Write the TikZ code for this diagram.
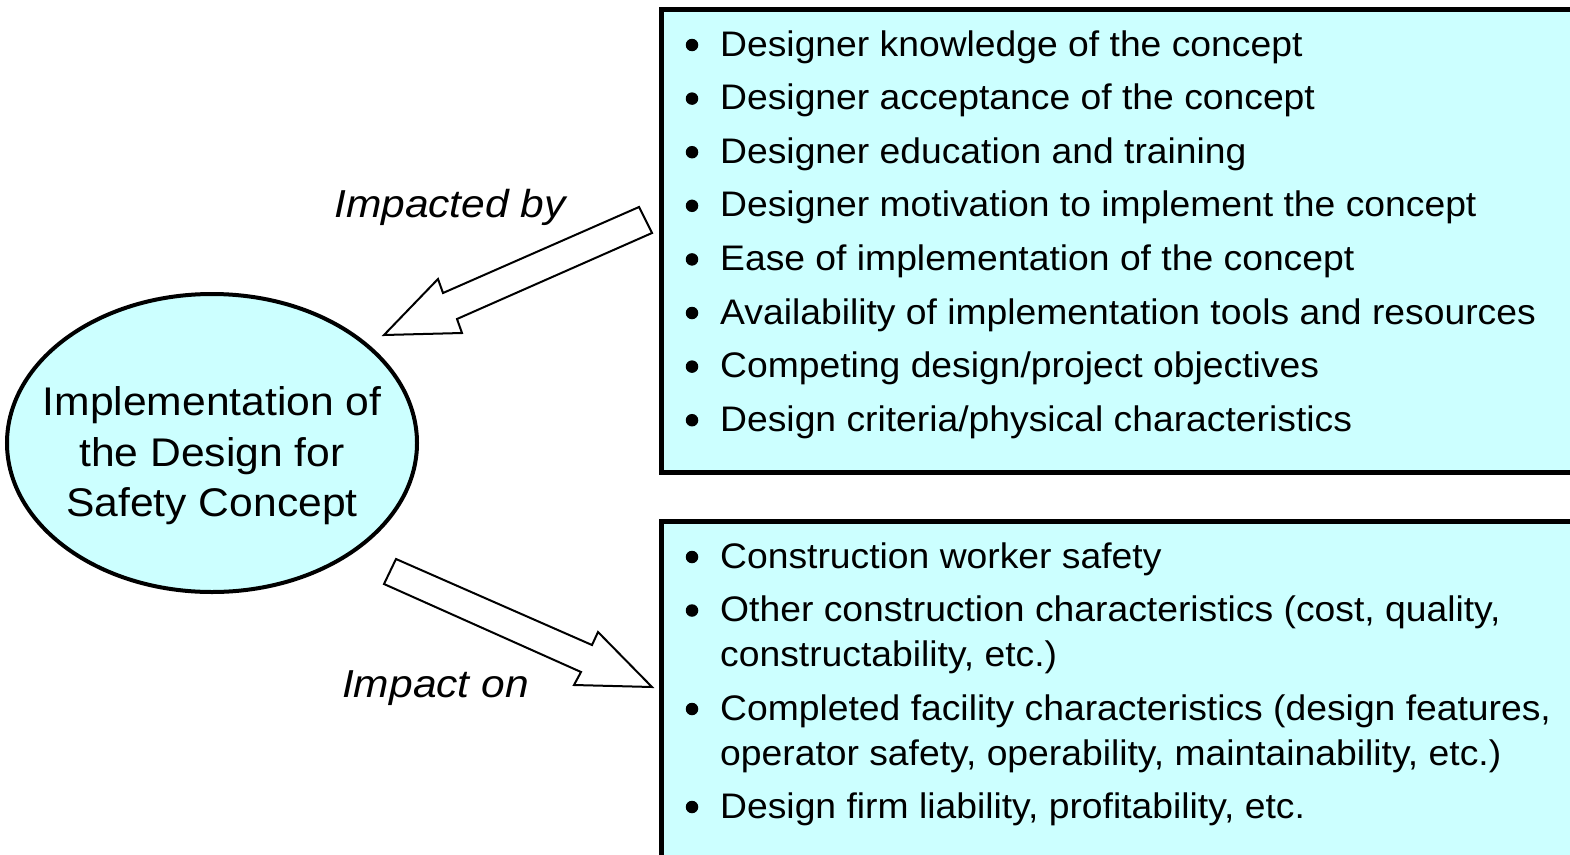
\documentclass[tikz,border=0pt]{standalone}
\usepackage{graphicx}
\usepackage{fontspec}
\setmainfont{Liberation Sans}
\definecolor{boxcyan}{HTML}{CCFFFF}
\newcommand{\listtxt}[1]{\scalebox{1.05}[1]{#1}}
\newcommand{\conctxt}[1]{\scalebox{1.065}[1]{#1}}
\newcommand{\labtxt}[1]{\scalebox{1.09}[1]{#1}}
\begin{document}
\begin{tikzpicture}[x=1pt,y=-1pt]
\tikzset{
  itemtext/.style={anchor=base west, inner sep=0pt, font=\fontsize{35.5}{40}\selectfont},
  bulletmark/.style={circle, fill=black, inner sep=0pt, minimum size=12.5pt, yshift=11pt},
  panel/.style={draw=black, line width=5, fill=boxcyan},
  blockarrow/.style={draw=black, line width=2, fill=white, line join=miter},
  label/.style={anchor=base, inner sep=0pt, font=\fontsize{39}{44}\selectfont\itshape},
  conceptline/.style={anchor=base, inner sep=0pt, font=\fontsize{40}{46}\selectfont}
}
\useasboundingbox (0,0) rectangle (1570,854);
\clip (0,0) rectangle (1570,854);
\fill[white] (0,0) rectangle (1570,854);
% boxes
\draw[panel] (661,9) rectangle (1590,472);
\draw[panel] (661,521) rectangle (1590,880);
% ellipse
\draw[line width=4, fill=boxcyan] (212,443) ellipse [x radius=205, y radius=149];
\node[conceptline] (c1) at (212,415) {\conctxt{Implementation of}};
\node[conceptline] (c2) at (212,466) {\conctxt{the Design for}};
\node[conceptline] (c3) at (212,516) {\conctxt{Safety Concept}};
% arrows
\draw[blockarrow] (639,207) -- (443,293) -- (438,279) -- (384,335) -- (462,333) -- (457,319) -- (652,233) -- cycle;
\draw[blockarrow] (396,559) -- (592,645) -- (598,632) -- (652,687) -- (574,685) -- (581,672) -- (384,584) -- cycle;
\node[label] (lab1) at (450,217) {\labtxt{Impacted by}};
\node[label] (lab2) at (435.5,697) {\labtxt{Impact on}};
% upper list
\foreach \t [count=\i] in {Designer knowledge of the concept, Designer acceptance of the concept, Designer education and training, Designer motivation to implement the concept, Ease of implementation of the concept, Availability of implementation tools and resources, Competing design/project objectives, Design criteria/physical characteristics}{
  \pgfmathsetmacro{\yy}{56+(\i-1)*53.6}
  \node[bulletmark] (ub\i) at (692,\yy) {};
  \node[itemtext] (ut\i) at (720,\yy) {\listtxt{\t}};
}
% lower list
\node[bulletmark] (lb1) at (692,568) {};
\node[itemtext] (lt1) at (720,568) {\listtxt{Construction worker safety}};
\node[bulletmark] (lb2) at (692,621.5) {};
\node[itemtext] (lt2) at (720,621.5) {\listtxt{Other construction characteristics (cost, quality,}};
\node[itemtext] (lt2b) at (720,666) {\listtxt{constructability, etc.)}};
\node[bulletmark] (lb3) at (692,720) {};
\node[itemtext] (lt3) at (720,720) {\listtxt{Completed facility characteristics (design features,}};
\node[itemtext] (lt3b) at (720,765) {\listtxt{operator safety, operability, maintainability, etc.)}};
\node[bulletmark] (lb4) at (692,818) {};
\node[itemtext] (lt4) at (720,818) {\listtxt{Design firm liability, profitability, etc.}};
\end{tikzpicture}
\end{document}
